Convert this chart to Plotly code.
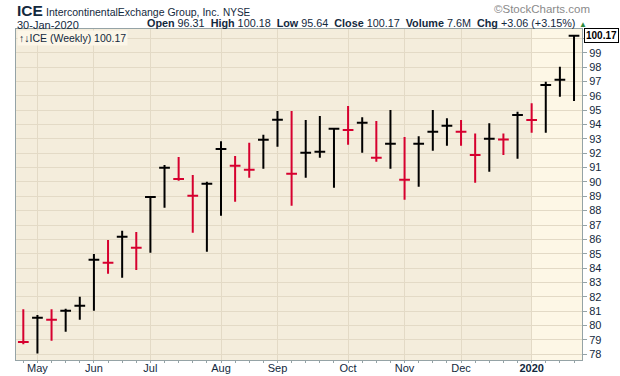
import plotly.graph_objects as go

# ---- data (weekly bars, Monday dates) ----
dates = ["2019-04-29", "2019-05-06", "2019-05-13", "2019-05-20", "2019-05-27",
         "2019-06-03", "2019-06-10", "2019-06-17", "2019-06-24", "2019-07-01",
         "2019-07-08", "2019-07-15", "2019-07-22", "2019-07-29", "2019-08-05",
         "2019-08-12", "2019-08-19", "2019-08-26", "2019-09-02", "2019-09-09",
         "2019-09-16", "2019-09-23", "2019-09-30", "2019-10-07", "2019-10-14",
         "2019-10-21", "2019-10-28", "2019-11-04", "2019-11-11", "2019-11-18",
         "2019-11-25", "2019-12-02", "2019-12-09", "2019-12-16", "2019-12-23",
         "2019-12-30", "2020-01-06", "2020-01-13", "2020-01-20", "2020-01-27"]
highs = [81.13, 80.73, 81.13, 81.17, 82.00, 84.98, 85.95, 86.60, 86.51, 88.97,
         91.18, 91.73, 90.48, 90.01, 92.83, 91.80, 92.73, 93.29, 94.94, 94.94,
         94.31, 94.59, 93.72, 95.29, 94.50, 94.24, 95.01, 93.13, 93.18, 95.01,
         94.43, 94.31, 93.38, 94.08, 93.38, 94.89, 95.47, 96.98, 98.02, 100.18]
lows = [78.69, 78.06, 78.94, 79.57, 80.40, 81.03, 83.61, 83.33, 83.87, 85.07,
        88.20, 90.08, 86.46, 85.14, 87.65, 88.62, 90.29, 90.92, 92.45, 88.34,
        90.29, 91.69, 89.60, 92.59, 92.03, 91.41, 90.92, 88.76, 89.67, 92.17,
        92.52, 92.52, 89.94, 90.71, 91.87, 91.62, 93.43, 93.43, 95.93, 95.64]
closes = [78.85, 80.54, 80.40, 81.03, 81.38, 84.58, 84.37, 86.18, 85.42, 88.95,
          90.99, 90.20, 89.04, 89.87, 92.29, 91.13, 90.85, 92.94, 94.33, 90.57,
          92.03, 92.10, 93.70, 93.62, 94.12, 91.69, 92.66, 90.15, 92.66, 93.50,
          93.91, 93.50, 91.87, 93.01, 92.96, 94.66, 94.31, 96.75, 97.11, 100.17]
prior_close = 79.90

month_ticks = ["2019-05-06", "2019-06-03", "2019-07-01", "2019-08-05", "2019-09-02",
               "2019-10-07", "2019-11-04", "2019-12-02", "2020-01-06"]
month_labels = ["May", "Jun", "Jul", "Aug", "Sep", "Oct", "Nov", "Dec", "<b>2020</b>"]
y_ticks = list(range(78, 101))
y_labels = [str(v) for v in y_ticks[:-1]] + [""]

last_close = closes[-1]
UP, DOWN = "#000000", "#D6002F"
TXT = "#13293D"

prev = [prior_close] + closes[:-1]
up_idx = [i for i in range(len(dates)) if closes[i] >= prev[i]]
dn_idx = [i for i in range(len(dates)) if closes[i] < prev[i]]

fig = go.Figure()
for idx, col in ((up_idx, UP), (dn_idx, DOWN)):
    fig.add_trace(go.Ohlc(
        x=[dates[i] for i in idx],
        open=[closes[i] for i in idx],
        high=[highs[i] for i in idx],
        low=[lows[i] for i in idx],
        close=[closes[i] for i in idx],
        increasing=dict(line=dict(color=col, width=2)),
        decreasing=dict(line=dict(color=col, width=2)),
        tickwidth=0.38, showlegend=False, hoverinfo="skip"))

x_range = ["2019-04-25 09:00", "2020-01-30 23:00"]

fig.add_shape(type="rect", xref="x", yref="paper", x0=month_ticks[-1], x1=x_range[1],
              y0=0, y1=1, fillcolor="#FDF7E6", line_width=0, layer="below")

fig.update_layout(
    width=620, height=376,
    margin=dict(l=16, r=38, t=29, b=16, autoexpand=False),
    paper_bgcolor="white", plot_bgcolor="#F4EDDC",
    font=dict(family="Liberation Sans, Arial, sans-serif", size=11, color=TXT),
    xaxis=dict(type="date", range=x_range, rangeslider=dict(visible=False),
               tickmode="array", tickvals=month_ticks, ticktext=month_labels,
               showgrid=True, gridcolor="#E3DAC6", gridwidth=1,
               showline=True, linecolor="#95A3A6", linewidth=1, mirror=True,
               ticks="outside", ticklen=2, tickcolor="#95A3A6",
               ticklabelstandoff=-4,
               tickfont=dict(size=11, color=TXT), automargin=False,
               minor=dict(ticks="outside", ticklen=2, tickcolor="#95A3A6",
                          dtick=7 * 86400000, tick0=dates[0], showgrid=False),
               zeroline=False, fixedrange=True),
    yaxis=dict(side="right", range=[77.60, 100.648], tickmode="array",
               tickvals=y_ticks, ticktext=y_labels,
               showgrid=True, gridcolor="#E3DAC6", gridwidth=1,
               showline=True, linecolor="#95A3A6", linewidth=1, mirror=True,
               ticks="outside", ticklen=4, tickcolor="#95A3A6", automargin=False,
               tickfont=dict(size=11, color=TXT), zeroline=False),
)

anns = [
    dict(text="<b>ICE</b>", x=15, y=0, font=dict(size=15.5, color=TXT)),
    dict(text="IntercontinentalExchange Group, Inc.", x=44, y=4, font=dict(size=10.5, color=TXT)),
    dict(text="NYSE", x=221, y=5, font=dict(size=10, color=TXT)),
    dict(text="30-Jan-2020", x=15, y=17, font=dict(size=11, color=TXT)),
    dict(text="©StockCharts.com", x=492, y=1, font=dict(size=11.5, color="#8A8A8A")),
]
for a in anns:
    fig.add_annotation(text=a["text"], xref="paper", yref="paper",
                       x=(a["x"] - 16) / 566, y=1 + (29 - a["y"]) / 331,
                       xanchor="left", yanchor="top", showarrow=False, font=a["font"])

quote = ("<b>Open</b> 96.31  <b>High</b> 100.18  <b>Low</b> 95.64  <b>Close</b> "
         f"{last_close:.2f}  <b>Volume</b> 7.6M  <b>Chg</b> +3.06 (+3.15%)")
fig.add_annotation(text=quote, xref="paper", yref="paper", x=(577 - 16) / 566,
                   y=1 + (29 - 15) / 331, xanchor="right", yanchor="top",
                   showarrow=False, font=dict(size=10.8, color=TXT))
fig.add_annotation(text="▲", xref="paper", yref="paper", x=(577 - 16) / 566,
                   y=1 + (29 - 18) / 331, xanchor="left", yanchor="top",
                   showarrow=False, font=dict(size=8, color="#2E8B3E"))

fig.add_annotation(text=f"↑↓ICE (Weekly) {last_close:.2f}", xref="paper", yref="paper",
                   x=1 / 566, y=1 - 1 / 331, xanchor="left", yanchor="top",
                   showarrow=False, bgcolor="#FCF6E8", borderpad=1,
                   font=dict(size=10.5, color=TXT))

fig.add_annotation(text=f"<b>{last_close:.2f}</b>", xref="paper", yref="y",
                   x=1 + 2 / 566, y=last_close, xanchor="left", yanchor="middle",
                   showarrow=False, bgcolor="white", bordercolor="#000000",
                   borderwidth=1, borderpad=1, font=dict(size=10, color="#000000"))

fig.write_html("out.html", config={"displayModeBar": False},
               post_script="document.body.style.margin='0';"
                           "document.body.style.overflow='hidden';")
